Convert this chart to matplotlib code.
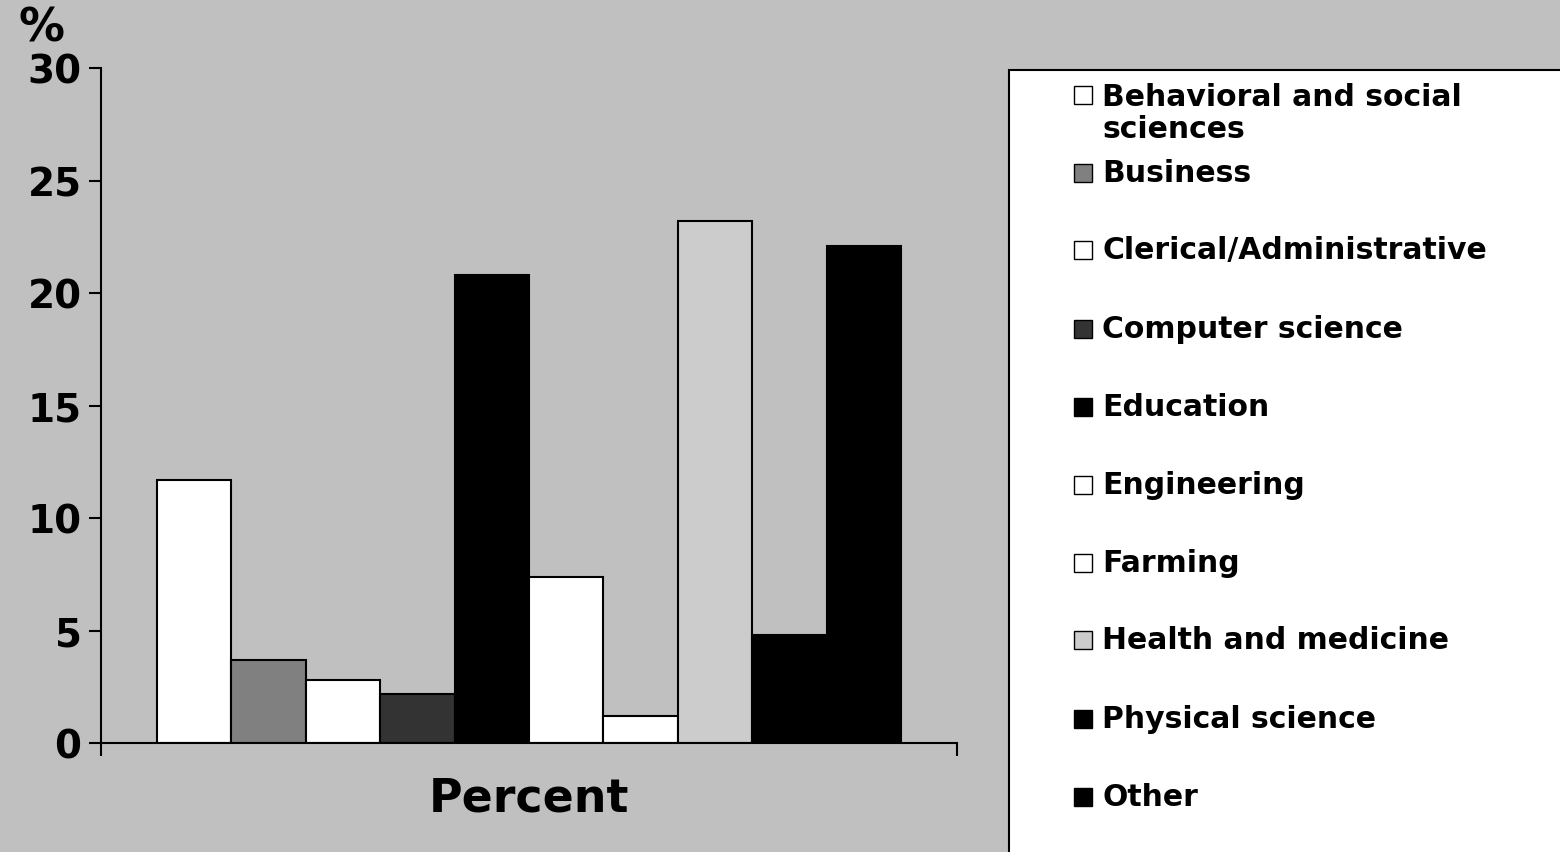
import matplotlib.pyplot as plt
from matplotlib.patches import Rectangle
import numpy as np

# Fields of study, share in percent
fields = ['Behavioral and social\nsciences', 'Business', 'Clerical/Administrative',
          'Computer science', 'Education', 'Engineering', 'Farming',
          'Health and medicine', 'Physical science', 'Other']
percent = [11.7, 3.7, 2.8, 2.2, 20.8, 7.4, 1.2, 23.2, 4.8, 22.1]
colors = ['#FFFFFF', '#808080', '#FFFFFF', '#333333', '#000000',
          '#FFFFFF', '#FFFFFF', '#CCCCCC', '#000000', '#000000']
yticks = [0, 5, 10, 15, 20, 25, 30]

bg = '#C0C0C0'
W, H = 1560, 853
fig = plt.figure(figsize=(W / 100, H / 100), dpi=100, facecolor=bg)
ax = fig.add_axes([101 / W, 1 - 744 / H, (957 - 101) / W, (744 - 69) / H])
ax.set_facecolor(bg)

n = len(percent)
w = 0.087
xs = (np.arange(n) - (n - 1) / 2) * w
ax.bar(xs, percent, width=w, color=colors, edgecolor='black', linewidth=1.5)

ax.set_xlim(-0.5, 0.5)
ax.set_ylim(0, 30)
ax.set_yticks(yticks)
ax.set_xticks([-0.5, 0.5])
ax.set_xticklabels(['', ''])
for s in ['top', 'right']:
    ax.spines[s].set_visible(False)
for s in ['left', 'bottom']:
    ax.spines[s].set_linewidth(1.5)
ax.tick_params(axis='y', direction='out', length=9, width=1.5, pad=5,
               labelsize=28)
ax.tick_params(axis='x', direction='out', length=9, width=1.5)
for lab in ax.get_yticklabels():
    lab.set_fontweight('bold')
ax.set_xlabel('Percent', fontsize=33, fontweight='bold', labelpad=11)

fig.text(42 / W, 1 - 29 / H, '%', fontsize=33, fontweight='bold',
         ha='center', va='center')

# legend box (runs off the right and bottom edge like the original)
box = Rectangle((1009 / W, -0.01), 0.4, 1.0 - 71 / H + 0.01,
                transform=fig.transFigure, facecolor='white',
                edgecolor='black', linewidth=1.5)
fig.add_artist(box)

row_y = [96, 174, 251, 330, 408, 486, 564, 641, 720, 798]
sq = 18
for lab, c, yy in zip(fields, colors, row_y):
    fig.add_artist(Rectangle((1074 / W, 1 - (yy + sq / 2) / H), sq / W, sq / H,
                             transform=fig.transFigure, facecolor=c,
                             edgecolor='black', linewidth=1.0))
    nlines = lab.count('\n') + 1
    ty = yy + (nlines - 1) * 35 / 2
    fig.text(1102 / W, 1 - ty / H, lab, fontsize=21.5, fontweight='bold',
             ha='left', va='center', linespacing=1.15)

fig.savefig('out.png', dpi=100, facecolor=bg)
